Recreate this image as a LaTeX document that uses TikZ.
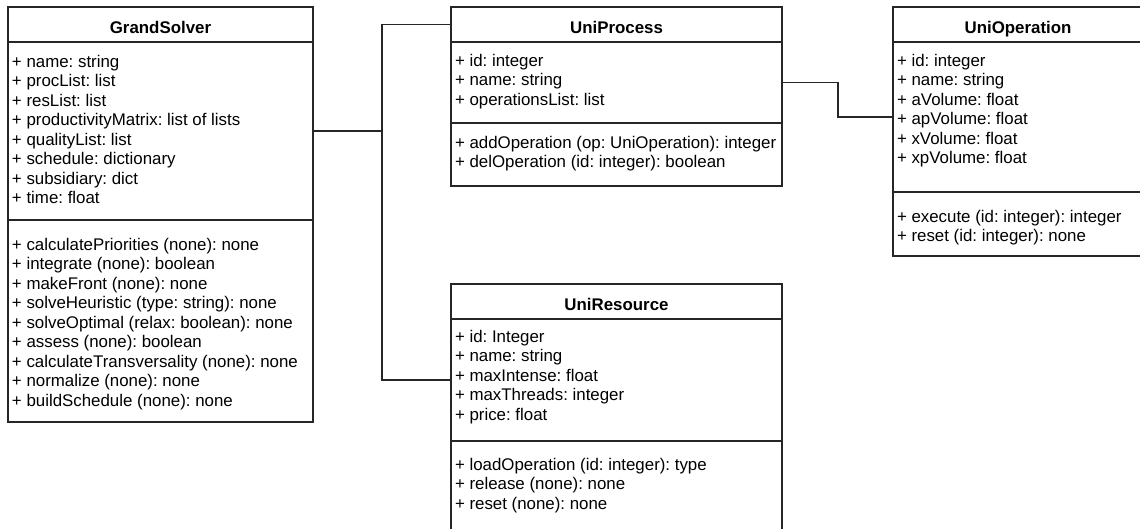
\documentclass[tikz,border=0pt]{standalone}
\usepackage{fontspec}
\setmainfont{Liberation Sans}
\usetikzlibrary{positioning}

\newcommand{\umlfont}{\fontsize{9.6pt}{0.39cm}\selectfont\frenchspacing}
% compartment text: width, height, first baseline, lines
\newcommand{\members}[4]{\parbox[t][#2][t]{#1}{\rule{0pt}{#3}#4}}

\tikzset{
  umlline/.style={draw=black!85, line width=0.7pt},
  classhead/.style={umlline, font=\umlfont\bfseries, minimum width=#1, minimum height=0.7cm,
    text height=0.34cm, text depth=0cm, inner sep=0pt, outer sep=0pt, anchor=north west},
  classpart/.style={umlline, inner xsep=0.08cm, inner ysep=0pt, outer sep=0pt},
  link/.style={umlline}
}

\begin{document}
\begin{tikzpicture}[font=\umlfont]
\path[use as bounding box] (0,0) rectangle (22.8,-10.56);
\clip (0,0) rectangle (22.8,-10.56);

% GrandSolver
\node[classhead=6.1cm] (gshead) at (0.16,-0.14) {GrandSolver};
\node[classpart, below right=0pt of gshead.south west] (gsattr) {\members{5.94cm}{3.56cm}{0.5cm}{%
+ name: string\\
+ procList: list\\
+ resList: list\\
+ productivityMatrix: list of lists\\
+ qualityList: list\\
+ schedule: dictionary\\
+ subsidiary: dict\\
+ time: float}};
\node[classpart, below right=0pt of gsattr.south west] (gsmeth) {\members{5.94cm}{4.04cm}{0.6cm}{%
+ calculatePriorities (none): none\\
+ integrate (none): boolean\\
+ makeFront (none): none\\
+ solveHeuristic (type: string): none\\
+ solveOptimal (relax: boolean): none\\
+ assess (none): boolean\\
+ calculateTransversality (none): none\\
+ normalize (none): none\\
+ buildSchedule (none): none}};

% UniProcess
\node[classhead=6.62cm] (uphead) at (9.02,-0.14) {UniProcess};
\node[classpart, below right=0pt of uphead.south west] (upattr) {\members{6.46cm}{1.62cm}{0.48cm}{%
+ id: integer\\
+ name: string\\
+ operationsList: list}};
\node[classpart, below right=0pt of upattr.south west] (upmeth) {\members{6.46cm}{1.26cm}{0.5cm}{%
+ addOperation (op: UniOperation): integer\\
+ delOperation (id: integer): boolean}};

% UniOperation
\node[classhead=5cm] (uohead) at (17.86,-0.14) {UniOperation};
\node[classpart, below right=0pt of uohead.south west] (uoattr) {\members{4.84cm}{3cm}{0.48cm}{%
+ id: integer\\
+ name: string\\
+ aVolume: float\\
+ apVolume: float\\
+ xVolume: float\\
+ xpVolume: float}};
\node[classpart, below right=0pt of uoattr.south west] (uometh) {\members{4.84cm}{1.28cm}{0.6cm}{%
+ execute (id: integer): integer\\
+ reset (id: integer): none}};

% UniResource
\node[classhead=6.62cm] (urhead) at (9.02,-5.68) {UniResource};
\node[classpart, below right=0pt of urhead.south west] (urattr) {\members{6.46cm}{2.44cm}{0.46cm}{%
+ id: Integer\\
+ name: string\\
+ maxIntense: float\\
+ maxThreads: integer\\
+ price: float}};
\node[classpart, below right=0pt of urattr.south west] (urmeth) {\members{6.46cm}{1.9cm}{0.58cm}{%
+ loadOperation (id: integer): type\\
+ release (none): none\\
+ reset (none): none}};

% links
\draw[link] (gsattr.east) -- ++(1.38,0) coordinate (gsfork) |- (uphead.west);
\draw[link] (gsfork) |- (urattr.west);
\draw[link] (upattr.east) -- ++(1.12,0) |- (uoattr.west);
\end{tikzpicture}
\end{document}
